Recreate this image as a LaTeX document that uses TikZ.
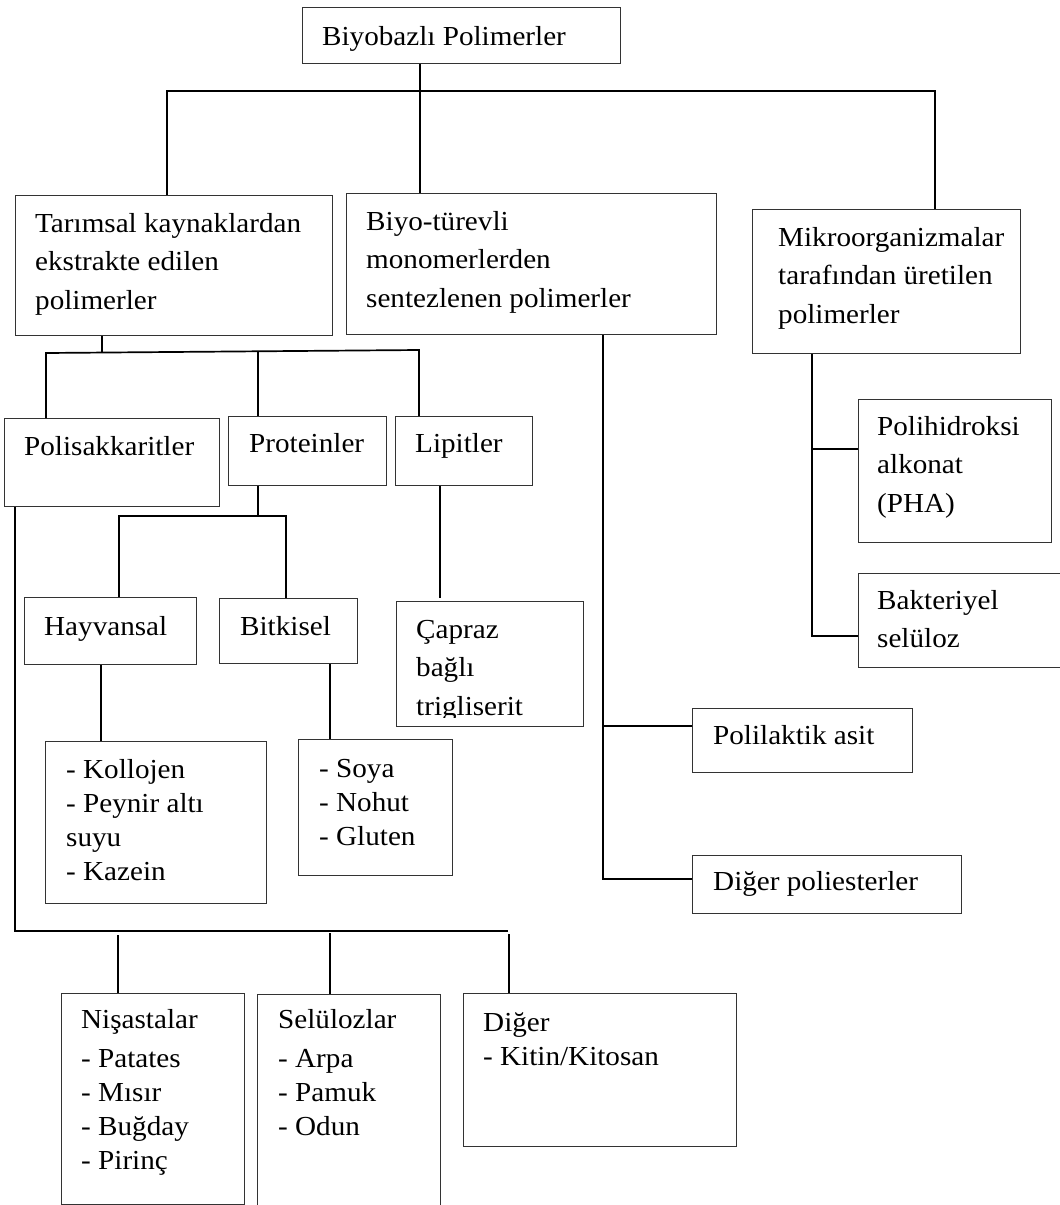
\documentclass[tikz,border=0pt]{standalone}
\usepackage{fontspec}
\setmainfont{Liberation Serif}[FakeStretch=1.06]
\usetikzlibrary{calc}
\newcommand{\rows}[1]{\begin{tabular}[t]{@{}l@{}}#1\end{tabular}}
\begin{document}
\begin{tikzpicture}[x=1pt,y=-1pt,
  box/.style={draw=black!80, line width=1.1pt, inner sep=0pt, anchor=north west},
  lbl/.style={anchor=base west, inner sep=0pt, font=\fontsize{27.5}{38.5}\selectfont},
  lst/.style={anchor=base west, inner sep=0pt, font=\fontsize{27.5}{34}\selectfont},
  conn/.style={draw=black, line width=1.7pt}]
\clip (0,0) rectangle (1060,1205);
\fill[white] (0,0) rectangle (1060,1205);

% boxes
\node[box, minimum width=318pt, minimum height=56pt] (top) at (302,7) {};
\node[box, minimum width=317pt, minimum height=140pt] (tar) at (15,195) {};
\node[box, minimum width=370pt, minimum height=141pt] (biyo) at (346,193) {};
\node[box, minimum width=268pt, minimum height=144pt] (mik) at (752,209) {};
\node[box, minimum width=215pt, minimum height=88pt] (pol) at (4,418) {};
\node[box, minimum width=158pt, minimum height=69pt] (pro) at (228,416) {};
\node[box, minimum width=137pt, minimum height=69pt] (lip) at (395,416) {};
\node[box, minimum width=172pt, minimum height=67pt] (hay) at (24,597) {};
\node[box, minimum width=138pt, minimum height=65pt] (bit) at (219,598) {};
\node[box, minimum width=187pt, minimum height=125pt] (cap) at (396,601) {};
\node[box, minimum width=221pt, minimum height=162pt] (kol) at (45,741) {};
\node[box, minimum width=154pt, minimum height=136pt] (soy) at (298,739) {};
\node[box, minimum width=193pt, minimum height=143pt] (pha) at (858,399) {};
\node[box, minimum width=215pt, minimum height=94pt] (bak) at (858,573) {};
\node[box, minimum width=220pt, minimum height=64pt] (pla) at (692,708) {};
\node[box, minimum width=269pt, minimum height=58pt] (dpo) at (692,855) {};
\node[box, minimum width=183pt, minimum height=211pt] (nis) at (61,993) {};
\node[box, minimum width=183pt, minimum height=225pt] (sel) at (257,994) {};
\node[box, minimum width=273pt, minimum height=153pt] (dig) at (463,993) {};

% labels
\node[lbl] (topL) at (322,45) {Biyobazlı Polimerler};
\node[lbl] (tarL) at (35,232) {\rows{Tarımsal kaynaklardan\\ekstrakte edilen\\polimerler}};
\node[lbl] (biyoL) at (366,230) {\rows{Biyo-türevli\\monomerlerden\\sentezlenen polimerler}};
\node[lbl] (mikL) at (778,246) {\rows{Mikroorganizmalar\\tarafından üretilen\\polimerler}};
\node[lbl] (polL) at (24,455) {Polisakkaritler};
\node[lbl] (proL) at (249,452) {Proteinler};
\node[lbl] (lipL) at (415,452) {Lipitler};
\node[lbl] (hayL) at (44,635) {Hayvansal};
\node[lbl] (bitL) at (240,635) {Bitkisel};
\begin{scope}
\clip (cap.north west) rectangle ([yshift=10pt]cap.south east);
\node[lbl] (capL) at (416,638) {\rows{Çapraz\\bağlı\\trigliserit}};
\end{scope}
\node[lst] (kolL) at (66,778) {\rows{- Kollojen\\- Peynir altı\\suyu\\- Kazein}};
\node[lst] (soyL) at (319,777) {\rows{- Soya\\- Nohut\\- Gluten}};
\node[lbl] (phaL) at (877,435) {\rows{Polihidroksi\\alkonat\\(PHA)}};
\node[lbl] (bakL) at (877,609) {\rows{Bakteriyel\\selüloz}};
\node[lbl] (plaL) at (713,744) {Polilaktik asit};
\node[lbl] (dpoL) at (713,890) {Diğer poliesterler};
\node[lst] (nisL) at (81,1028) {\rows{Nişastalar\\[5pt]- Patates\\- Mısır\\- Buğday\\- Pirinç}};
\node[lst] (selL) at (278,1028) {\rows{Selülozlar\\[5pt]- Arpa\\- Pamuk\\- Odun}};
\node[lst] (digL) at (483,1031) {\rows{Diğer\\- Kitin/Kitosan}};

% junctions
\coordinate (j0) at (420,91);
\coordinate (aL) at (167,91);
\coordinate (aR) at (935,91);
\coordinate (b0) at (102,352);
\coordinate (bL) at (46,353);
\coordinate (bM) at (258,352);
\coordinate (bR) at (419,350);
\coordinate (c0) at (258,516);
\coordinate (cL) at (119,516);
\coordinate (cR) at (286,516);
\coordinate (d0) at (440,598);
\coordinate (e0) at (101,741);
\coordinate (f0) at (330,739);
\coordinate (g0) at (15,931);
\coordinate (gR) at (508,931);
\coordinate (g1) at (118,935);
\coordinate (g2) at (330,933);
\coordinate (g3) at (509,934);
\coordinate (h0) at (603,879);
\coordinate (h1) at (603,726);
\coordinate (k0) at (812,636);
\coordinate (k1) at (812,449);

% connectors
\draw[conn] (j0 |- top.south) -- (j0 |- biyo.north);
\draw[conn] (aL |- tar.north) -- (aL) -- (aR) -- (aR |- mik.north);
\draw[conn] (b0 |- tar.south) -- (b0);
\draw[conn] (bL |- pol.north) -- (bL) -- (bR) -- (bR |- lip.north);
\draw[conn] (bM) -- (bM |- pro.north);
\draw[conn] (c0 |- pro.south) -- (c0);
\draw[conn] (cL |- hay.north) -- (cL) -- (cR) -- (cR |- bit.north);
\draw[conn] (d0 |- lip.south) -- (d0);
\draw[conn] (e0 |- hay.south) -- (e0 |- kol.north);
\draw[conn] (f0 |- bit.south) -- (f0 |- soy.north);
\draw[conn] (g0 |- pol.south) -- (g0) -- (gR);
\draw[conn] (g1) -- (g1 |- nis.north);
\draw[conn] (g2) -- (g2 |- sel.north);
\draw[conn] (g3) -- (g3 |- dig.north);
\draw[conn] (h0 |- biyo.south) -- (h0) -- (h0 -| dpo.west);
\draw[conn] (h1) -- (h1 -| pla.west);
\draw[conn] (k0 |- mik.south) -- (k0) -- (k0 -| bak.west);
\draw[conn] (k1) -- (k1 -| pha.west);
\end{tikzpicture}
\end{document}
